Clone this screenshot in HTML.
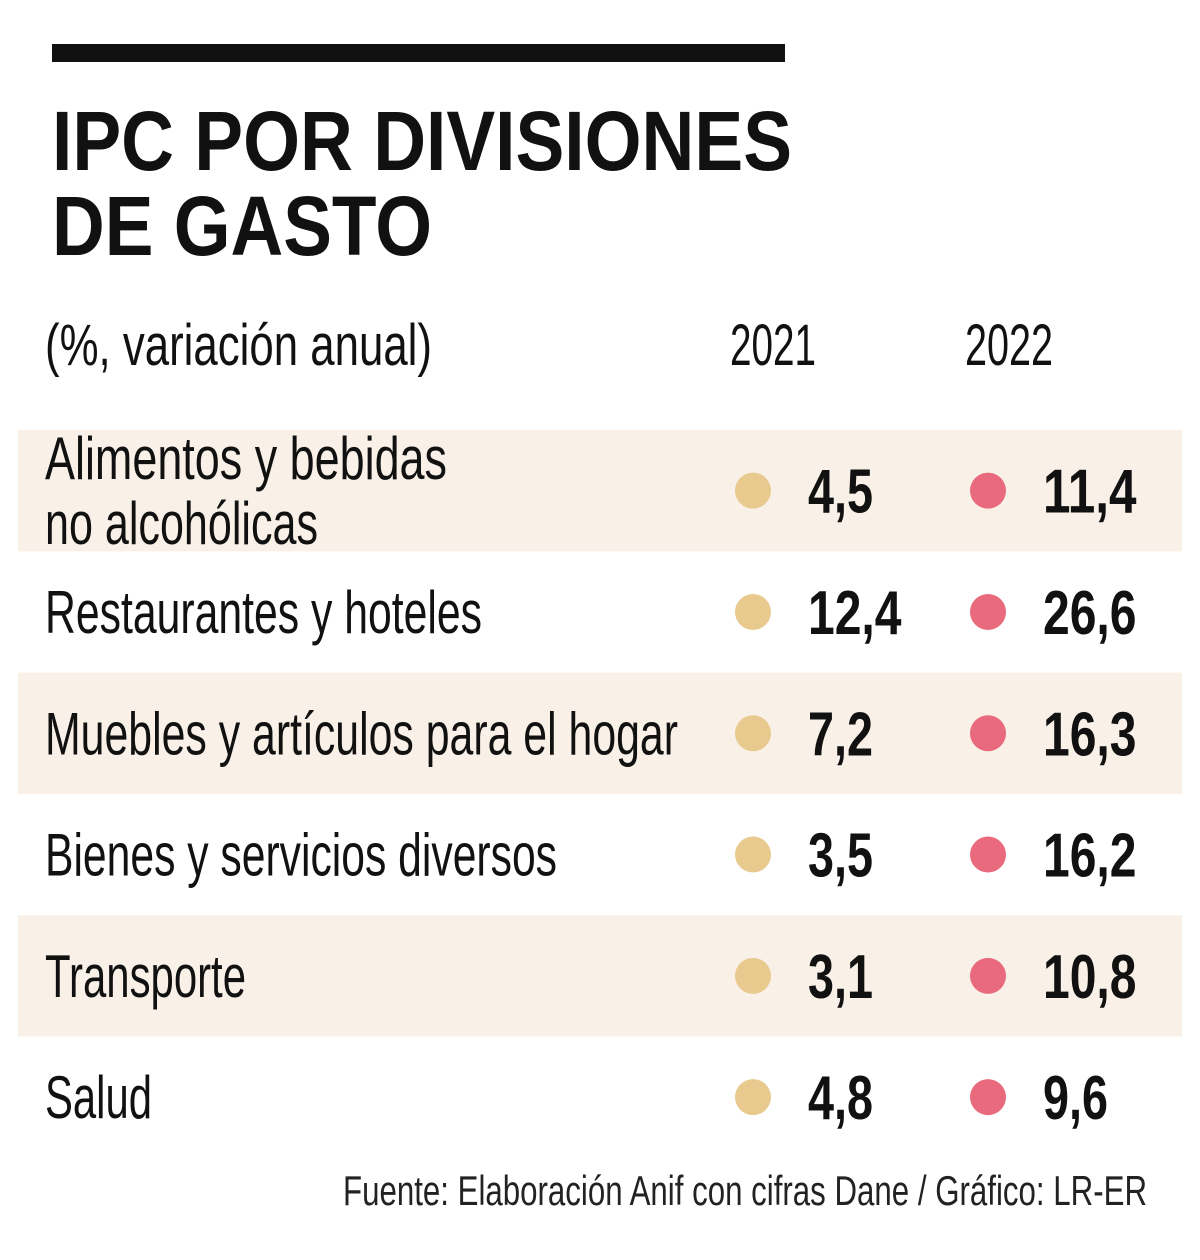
<!DOCTYPE html>
<html><head><meta charset="utf-8"><style>
html,body{margin:0;padding:0;background:#fff;}
svg{display:block;}
text{font-family:"Liberation Sans Narrow","Liberation Sans",sans-serif;}
</style></head><body>
<svg id="chart" width="1200" height="1260" viewBox="0 0 1200 1260">
<rect x="52" y="44" width="733" height="18" fill="#111"/>
<text x="52" y="170" font-size="84" font-weight="bold" textLength="740" lengthAdjust="spacingAndGlyphs" fill="#111">IPC POR DIVISIONES</text>
<text x="52" y="255" font-size="84" font-weight="bold" textLength="380" lengthAdjust="spacingAndGlyphs" fill="#111">DE GASTO</text>
<text x="45" y="365" font-size="58" textLength="387" lengthAdjust="spacingAndGlyphs" fill="#111">(%, variación anual)</text>
<text x="730" y="365" font-size="58" textLength="86" lengthAdjust="spacingAndGlyphs" fill="#111">2021</text>
<text x="965" y="365" font-size="58" textLength="88" lengthAdjust="spacingAndGlyphs" fill="#111">2022</text>
<g id="rows"></g>
<text x="1147" y="1205" font-size="42" text-anchor="end" textLength="804" lengthAdjust="spacingAndGlyphs" fill="#222">Fuente: Elaboración Anif con cifras Dane / Gráfico: LR-ER</text>
</svg>
<script>
const categories = ["Alimentos y bebidas|no alcohólicas","Restaurantes y hoteles","Muebles y artículos para el hogar","Bienes y servicios diversos","Transporte","Salud"];
const labelWidths = [[402,273],[437],[633],[512],[201],[107]];
const values2021 = ["4,5","12,4","7,2","3,5","3,1","4,8"];
const values2022 = ["11,4","26,6","16,3","16,2","10,8","9,6"];
const NS="http://www.w3.org/2000/svg";
const g=document.getElementById('rows');
const rowTop=430,rowH=121.3;
function mk(tag,attrs){const e=document.createElementNS(NS,tag);for(const k in attrs)e.setAttribute(k,attrs[k]);return e;}
function numLen(s){let d=0,c=0;for(const ch of s){if(ch===',')c++;else d++;}return d*28.5+c*8;}
categories.forEach((cat,i)=>{
  const y0=rowTop+i*rowH, cy=y0+rowH/2;
  if(i%2===0){
    const r=mk('rect',{x:18,y:y0,width:1164,height:rowH,fill:'#f9f1e7'});
    
    
    g.appendChild(r);
  }
  const lines=cat.split('|');
  lines.forEach((ln,j)=>{
    const by = lines.length>1 ? (j===0?479:544)+i*rowH : cy+21;
    const t=mk('text',{x:45,y:by,'font-size':60,fill:'#111',textLength:labelWidths[i][j],lengthAdjust:'spacingAndGlyphs'});
    t.textContent=ln;
    
    
    g.appendChild(t);
  });
  [[values2021,753,808,'#e8ca8e','2021'],[values2022,988,1043,'#e96a7d','2022']].forEach(([arr,dx,tx,col,yr])=>{
    const c=mk('circle',{cx:dx,cy:cy,r:18,fill:col});
    
    
    g.appendChild(c);
    const v=mk('text',{x:tx,y:cy+22,'font-size':62,'font-weight':'bold',fill:'#111',textLength:numLen(arr[i]),lengthAdjust:'spacingAndGlyphs'});
    v.textContent=arr[i];
    
    
    g.appendChild(v);
  });
});
</script>
</body></html>
